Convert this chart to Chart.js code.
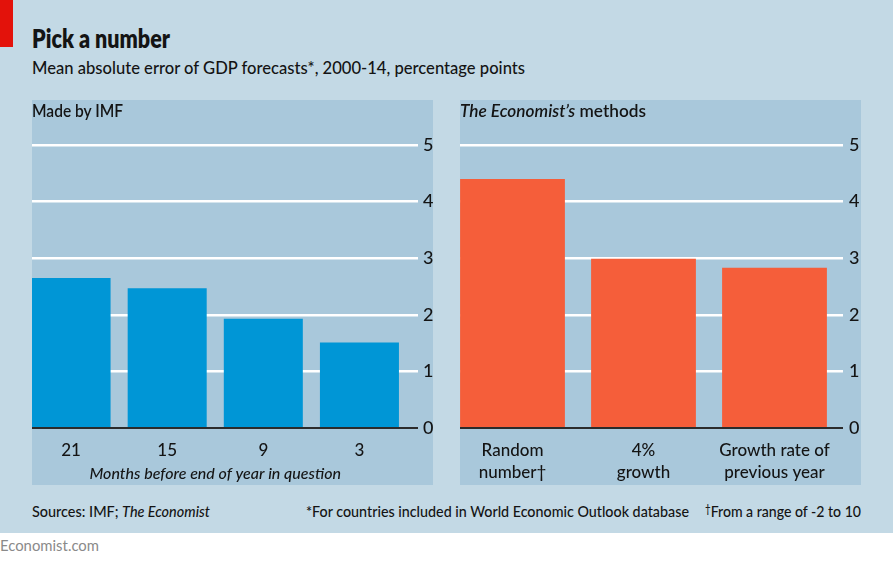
<!DOCTYPE html>
<html>
<head>
<meta charset="utf-8">
<script src="https://cdn.jsdelivr.net/npm/chart.js@4/dist/chart.umd.min.js"></script>
<style>
  html, body { margin:0; padding:0; }
  body { width:893px; height:566px; background:#ffffff; position:relative; overflow:hidden;
         font-family:Lato,"Open Sans",sans-serif; color:#141414; font-weight:500; }
  #bg { position:absolute; left:0; top:0; width:893px; height:533px; background:#c3d9e5; }
  #red { position:absolute; left:0; top:0; width:13px; height:47px; background:#e3120b; }
  .txt { position:absolute; white-space:nowrap; line-height:1; transform-origin:0 0; }
  .panel { position:absolute; top:100px; width:401px; height:385px; background:#a9c8db; overflow:hidden; }
  .inner { position:absolute; top:0; height:385px; }
</style>
</head>
<body>
<div id="bg"></div>
<div id="red"></div>
<div class="txt" data-w="138" style="left:32px;top:25px;font-size:26px;font-weight:800;">Pick a number</div>
<div class="txt" data-w="493" style="left:32px;top:58px;font-size:18px;">Mean absolute error of GDP forecasts*, 2000-14, percentage points</div>

<div class="panel" style="left:32px;">
  <div class="inner" style="left:-9px;width:410px;"><canvas id="c1"></canvas></div>
  <div class="txt" data-w="91" style="left:0px;top:2px;font-size:17px;font-weight:600;">Made by IMF</div>
</div>
<div class="panel" style="left:460px;">
  <div class="inner" style="left:-13px;width:414px;"><canvas id="c2"></canvas></div>
  <div class="txt" data-w="186" style="left:0px;top:2px;font-size:17px;font-weight:600;"><i>The Economist’s</i> methods</div>
</div>

<div class="txt" data-w="178" style="left:32px;top:503px;font-size:16px;">Sources: IMF; <i>The Economist</i></div>
<div class="txt" data-w="383" style="left:306px;top:503px;font-size:16px;">*For countries included in World Economic Outlook database</div>
<div class="txt" data-w="156" style="left:705px;top:503px;font-size:16px;"><span style="font-size:11px;vertical-align:4px;">†</span>From a range of -2 to 10</div>
<div class="txt" data-w="99" style="left:0px;top:538px;font-size:15px;font-weight:400;color:#8a8a8a;">Economist.com</div>

<script>
// ---- data ----
const imfCategories = ["21", "15", "9", "3"];
const imfValues = [2.65, 2.47, 1.93, 1.51];
const imfAxisTitle = "Months before end of year in question";

const econCategories = [["Random", "number†"], ["4%", "growth"], ["Growth rate of", "previous year"]];
const econValues = [4.4, 2.99, 2.83];

const yTicks = [0, 1, 2, 3, 4, 5];

// ---- fit HTML text widths ----
document.querySelectorAll('.txt[data-w]').forEach(el => {
  const w = el.getBoundingClientRect().width;
  const target = parseFloat(el.dataset.w);
  if (w > 0) el.style.transform = 'scaleX(' + (target / w) + ')';
});

// ---- styling ----
const FONT = 'Lato, "Open Sans", sans-serif';
const TEXT = '#141414';

function makeChart(id, labels, values, color, opts) {
  return new Chart(document.getElementById(id), {
    type: 'bar',
    data: { labels: labels, datasets: [{ data: values, backgroundColor: color, borderWidth: 0,
      barPercentage: opts.barPct, categoryPercentage: 1.0 }] },
    options: {
      responsive: true, maintainAspectRatio: false, animation: false,
      devicePixelRatio: 1,
      layout: { padding: { top: 45, left: 0, right: 0, bottom: 0 } },
      plugins: { legend: { display: false }, tooltip: { enabled: false } },
      scales: {
        x: {
          grid: { display: false, drawTicks: false }, border: { display: false },
          ticks: { color: TEXT, font: { family: FONT, size: 17, weight: 500, lineHeight: 1.3 }, padding: 11, maxRotation: 0, autoSkip: false },
          title: opts.title ? { display: true, text: opts.title, color: TEXT,
                  font: { family: FONT, size: 16, weight: 500, style: 'italic' }, padding: { top: 0, bottom: 2 } } : { display: false },
          afterFit: s => { s.height = 57; }
        },
        y: {
          position: 'right', min: 0, max: 5,
          afterBuildTicks: s => { s.ticks = yTicks.map(v => ({ value: v })); },
          border: { display: false },
          grid: {
            color: c => c.tick && c.tick.value === 0 ? '#2b2b2b' : '#ffffff',
            lineWidth: c => c.tick && c.tick.value === 0 ? 2 : 2.5,
            tickLength: opts.tickLen, drawTicks: true
          },
          ticks: { color: TEXT, font: { family: FONT, size: 18, weight: 500 }, padding: opts.labelPad },
          afterFit: s => { s.width = opts.yWidth; }
        }
      }
    }
  });
}

makeChart('c1', imfCategories, imfValues, '#0096d6', { barPct: 0.822, tickLen: 10.5, labelPad: 5, yWidth: 25.5, title: imfAxisTitle });
makeChart('c2', econCategories, econValues, '#f55e3a', { barPct: 0.80, tickLen: 3, labelPad: 6, yWidth: 21, title: null });
</script>
</body>
</html>
